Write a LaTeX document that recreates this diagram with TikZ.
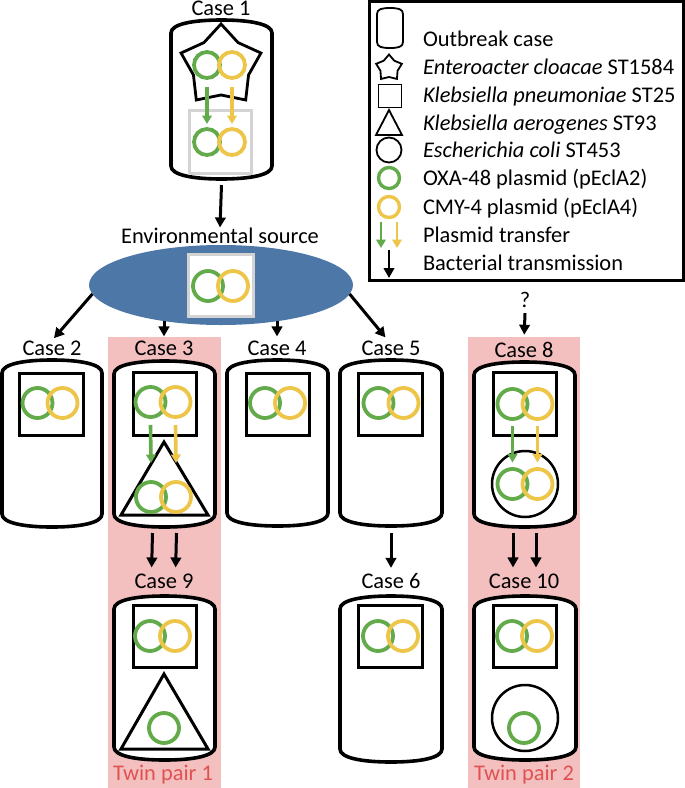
\documentclass[tikz,border=0pt]{standalone}
\usepackage{fontspec}
\setmainfont{Carlito}
\usetikzlibrary{shapes.geometric,arrows.meta,calc}
\definecolor{oxa}{HTML}{62AA4A}
\definecolor{cmy}{HTML}{EDC548}
\definecolor{envblue}{HTML}{4C77A6}
\definecolor{twinbg}{HTML}{F3BFBF}
\definecolor{twintx}{HTML}{E05252}
\definecolor{boxgray}{HTML}{D3D3D3}
% cylinder body: L R T B name
\newcommand\casebody[5]{%
  \draw[cyl] (#1,#4-13) -- (#1,#3+13) .. controls (#1,#3+4) and (#1+22,#3) .. ({(#1+#2)/2},#3)
    .. controls (#2-22,#3) and (#2,#3+4) .. (#2,#3+13) -- (#2,#4-13)
    .. controls (#2,#4-4) and (#2-22,#4) .. ({(#1+#2)/2},#4)
    .. controls (#1+22,#4) and (#1,#4-4) .. cycle;
  \coordinate (#5top) at ({(#1+#2)/2},#3);
  \coordinate (#5bot) at ({(#1+#2)/2},#4);}
% plasmid pair: name x y size
\newcommand\plpair[4]{%
  \node[oxac,minimum size=#4] (#1g) at ({#2-12.5},#3) {};
  \node[cmyc,minimum size=#4] (#1y) at ({#2+12.5},#3) {};}
\begin{document}
\begin{tikzpicture}[x=1pt,y=-1pt,
  every node/.style={inner sep=0pt, outer sep=0pt, font=\fontsize{22.4}{27}\selectfont},
  lab/.style={anchor=base},
  legtext/.style={anchor=base west},
  cyl/.style={draw=black, fill=white, line width=3.6pt},
  kpsq/.style={draw=black, line width=2.7pt, minimum width=63.5pt, minimum height=62.5pt},
  graysq/.style={draw=boxgray, fill=white, line width=3pt},
  tri/.style={draw=black, line width=3pt, line join=miter},
  ecoli/.style={circle, draw=black, line width=2.5pt, minimum size=66pt},
  oxac/.style={circle, draw=oxa, line width=3.8pt, minimum size=29pt},
  cmyc/.style={circle, draw=cmy, line width=3.8pt, minimum size=29pt},
  bact/.style={-{Triangle[width=10.5pt,length=10pt]}, line width=3pt},
  parr/.style={-{Triangle[width=9.5pt,length=8.5pt]}, line width=3.6pt},
  legshape/.style={draw=black, line width=1.8pt}
]
\useasboundingbox (0,0) rectangle (685,788);

% twin pair backgrounds
\fill[twinbg] (108,337) rectangle (221,788);
\fill[twinbg] (468,337) rectangle (580,788);

% legend
\draw[line width=3pt] (369,1.5) rectangle (683,280);
\draw[legshape] (377,42) -- (377,14) .. controls (377,9) and (382,8) .. (390,8) .. controls (398,8) and (403,9) .. (403,14)
  -- (403,42) .. controls (403,47) and (398,48) .. (390,48) .. controls (382,48) and (377,47) .. cycle;
\node[legshape, star, star points=5, star point ratio=1.5, minimum size=27pt] (lgstar) at (389,68) {};
\node[legshape, minimum size=23pt] (lgsq) at (390,96) {};
\draw[legshape, line join=miter] (389,110) -- (402,135) -- (376,135) -- cycle;
\node[legshape, circle, minimum size=25pt] (lgcirc) at (389,150) {};
\node[oxac, line width=3.4pt, minimum size=21pt] (lgoxa) at (389,178) {};
\node[cmyc, line width=3.4pt, minimum size=21pt] (lgcmy) at (389,207) {};
\coordinate (lga1) at (381,222); \coordinate (lga2) at (381,248);
\coordinate (lgb1) at (397,222); \coordinate (lgb2) at (397,248);
\coordinate (lgc1) at (389,250); \coordinate (lgc2) at (389,278);
\draw[parr, draw=oxa, fill=oxa, line width=2.8pt] (lga1) -- (lga2);
\draw[parr, draw=cmy, fill=cmy, line width=2.8pt] (lgb1) -- (lgb2);
\draw[bact, line width=2.6pt] (lgc1) -- (lgc2);
\node[legtext] (t1) at (423,46) {Outbreak case};
\node[legtext] (t2) at (423,74) {\textit{Enteroacter cloacae} ST1584};
\node[legtext] (t3) at (423,102) {\textit{Klebsiella pneumoniae} ST25};
\node[legtext] (t4) at (423,130) {\textit{Klebsiella aerogenes} ST93};
\node[legtext] (t5) at (423,157) {\textit{Escherichia coli} ST453};
\node[legtext] (t6) at (423,185) {OXA-48 plasmid (pEclA2)};
\node[legtext] (t7) at (423,214) {CMY-4 plasmid (pEclA4)};
\node[legtext] (t8) at (423,242) {Plasmid transfer};
\node[legtext] (t9) at (423,270) {Bacterial transmission};

% case 1
\node[lab] (c1lab) at (221,15.5) {Case 1};
\casebody{171}{272}{20}{179}{c1}
\node[draw=black, line width=2.8pt, star, star points=5, star point ratio=1.45, minimum size=84pt] (c1star) at (221,66) {};
\plpair{c1t}{219.5}{65}{26pt}
\node[graysq, minimum width=62pt, minimum height=63pt] (c1sq) at (220.5,142) {};
\plpair{c1b}{219.5}{142}{26pt}
\draw[parr, draw=oxa, fill=oxa] ([yshift=-9pt]c1tg.south) -- ([yshift=5pt]c1bg.north);
\draw[parr, draw=cmy, fill=cmy] ([yshift=-9pt]c1ty.south) -- ([yshift=5pt]c1by.north);

% environmental source
\node[lab] (envlab) at (220,243) {Environmental source};
\node[ellipse, fill=envblue, minimum width=264pt, minimum height=80pt] (env) at (221,285) {};
\node[graysq, minimum width=65pt, minimum height=62pt] (envsq) at (221,285.5) {};
\plpair{e}{220.5}{286}{30pt}
\draw[bact] ([yshift=-6pt]c1bot) -- (envlab.north);

% row 1 labels
\node[lab] (c2lab) at (52,355) {Case 2};
\node[lab] (c3lab) at (164,355) {Case 3};
\node[lab] (c4lab) at (277,355) {Case 4};
\node[lab] (c5lab) at (391,355) {Case 5};
\node[lab] (qlab) at (525,307) {?};
\node[lab] (c8lab) at (524,357) {Case 8};

\draw[bact, shorten >=3pt] (env.184.5) -- (c2lab.north);
\draw[bact, shorten >=4pt] ($(env.south -| c3lab.north)+(0,-4)$) -- (c3lab.north);
\draw[bact, shorten >=4pt] ($(env.south -| c4lab.north)+(0,-4)$) -- (c4lab.north);
\draw[bact, shorten >=4pt] (env.-4.9) -- ($(c5lab.north)+(-3,0)$);
\draw[bact, shorten >=7pt] ([yshift=-6pt]qlab.south) -- (c8lab.north);

% case 2
\casebody{2}{102}{360}{527}{c2}
\node[kpsq] (c2sq) at (51.5,404.5) {};
\plpair{c2}{50}{403}{30pt}
% case 3
\casebody{114}{215}{361}{527}{c3}
\node[kpsq] (c3sq) at (165,404) {};
\plpair{c3}{163}{402}{30pt}
\draw[tri] (164,442) -- (208,515) -- (121,515) -- cycle;
\plpair{c3t}{163.5}{497}{30pt}
\draw[parr, draw=oxa, fill=oxa] ([yshift=-8pt]c3g.south) -- ([yshift=19pt]c3tg.north);
\draw[parr, draw=cmy, fill=cmy] ([yshift=-8pt]c3y.south) -- ([yshift=19pt]c3ty.north);
% case 4
\casebody{227}{328}{360}{526}{c4}
\node[kpsq] (c4sq) at (278,404.5) {};
\plpair{c4}{277.5}{403}{30pt}
% case 5
\casebody{340}{442}{360}{526}{c5}
\node[kpsq] (c5sq) at (390.5,404.5) {};
\plpair{c5}{391}{403}{30pt}
% case 8
\casebody{474}{575}{362}{527}{c8}
\node[kpsq] (c8sq) at (525,404) {};
\plpair{c8}{525}{404}{30pt}
\node[ecoli] (c8ec) at (525,484) {};
\plpair{c8b}{525}{484}{30pt}
\draw[parr, draw=oxa, fill=oxa] ([yshift=-6.5pt]c8g.south) -- ([yshift=6.5pt]c8bg.north);
\draw[parr, draw=cmy, fill=cmy] ([yshift=-6.5pt]c8y.south) -- ([yshift=6.5pt]c8by.north);

% row 2
\node[lab] (c9lab) at (164,588) {Case 9};
\node[lab] (c6lab) at (391,588) {Case 6};
\node[lab] (c10lab) at (524,588) {Case 10};
\draw[bact, shorten >=6pt] ($(c3bot)+(-12,6)$) -- ($(c9lab.north)+(-12.5,0)$);
\draw[bact, shorten >=6pt] ($(c3bot)+(12,6)$) -- ($(c9lab.north)+(11.5,0)$);
\draw[bact, shorten >=5pt] ($(c5bot)+(0,7)$) -- (c6lab.north);
\draw[bact, shorten >=6pt] ($(c8bot)+(-11.5,6)$) -- ($(c10lab.north)+(-11,0)$);
\draw[bact, shorten >=6pt] ($(c8bot)+(11.5,6)$) -- ($(c10lab.north)+(12,0)$);

% case 9
\casebody{114}{215}{596}{760}{c9}
\node[kpsq] (c9sq) at (165,636.5) {};
\plpair{c9}{162.5}{636}{30pt}
\draw[tri] (164,674) -- (208,749) -- (121,749) -- cycle;
\node[oxac, minimum size=30pt] (c9tg) at (164,728) {};
% case 6
\casebody{340}{442}{596}{762}{c6}
\node[kpsq] (c6sq) at (390.5,636.5) {};
\plpair{c6}{390.5}{636}{30pt}
% case 10
\casebody{474}{576}{596}{760}{c10}
\node[kpsq] (c10sq) at (525,636.5) {};
\plpair{c10}{524.5}{636}{30pt}
\node[ecoli] (c10ec) at (525,718) {};
\node[oxac, minimum size=30pt] (c10bg) at (524,728) {};

% twin labels
\node[lab, text=twintx] (tw1) at (163,780) {Twin pair 1};
\node[lab, text=twintx] (tw2) at (524,780) {Twin pair 2};
\end{tikzpicture}
\end{document}
